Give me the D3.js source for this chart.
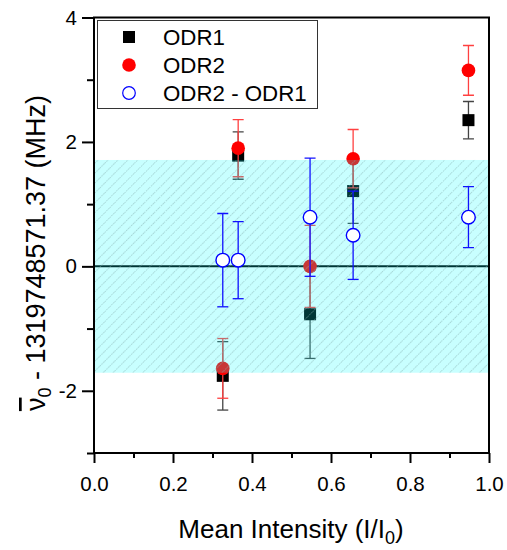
<!DOCTYPE html>
<html>
<head>
<meta charset="utf-8">
<script src="https://cdn.jsdelivr.net/npm/d3@7"></script>
<style>
  html, body { margin: 0; padding: 0; background: #fff; }
  svg { display: block; font-family: "Liberation Sans", Arial, sans-serif; }
</style>
</head>
<body>
<svg id="chart" width="507" height="550"></svg>
<script>
// ---- data ----
const intensity = [0.326, 0.365, 0.547, 0.656, 0.948];
const odr1      = [-1.76, 1.78, -0.77, 1.21, 2.35];
const odr1Err   = [0.55, 0.38, 0.71, 0.52, 0.30];
const odr2      = [-1.64, 1.90, 0.00, 1.73, 3.15];
const odr2Err   = [0.48, 0.46, 0.66, 0.47, 0.40];
const diff      = [0.10, 0.10, 0.79, 0.50, 0.79];
const diffErr   = [0.75, 0.62, 0.95, 0.71, 0.49];
const bandHalfWidth = 1.71;
const xMajorTicks = [0, 0.2, 0.4, 0.6, 0.8, 1.0];
const xMinorTicks = [0.1, 0.3, 0.5, 0.7, 0.9];
const yMajorTicks = [-2, 0, 2, 4];
const yMinorTicks = [-3, -1, 1, 3];
const legendLabels = ["ODR1", "ODR2", "ODR2 - ODR1"];

const svg = d3.select("#chart");
const L = 94, R = 489, T = 17.5, B = 453;
const x = d3.scaleLinear().domain([0, 1]).range([L, R]);
const y = d3.scaleLinear().domain([-3, 4]).range([B, T]);

const defs = svg.append("defs");
const pat = defs.append("pattern").attr("id", "hatch")
  .attr("patternUnits", "userSpaceOnUse").attr("width", 7).attr("height", 7)
  .attr("patternTransform", "rotate(45)");
pat.append("line").attr("x1", 0).attr("y1", 0).attr("x2", 0).attr("y2", 7)
  .attr("stroke", "#86b0b0").attr("stroke-width", 1).attr("stroke-dasharray", "1.5,1");
defs.append("clipPath").attr("id", "plotclip").append("rect")
  .attr("x", L).attr("y", T).attr("width", R - L).attr("height", B - T);

const plot = svg.append("g").attr("clip-path", "url(#plotclip)");

// zero line
plot.append("line").attr("x1", x(0)).attr("x2", x(1)).attr("y1", y(0)).attr("y2", y(0))
  .attr("stroke", "#000").attr("stroke-width", 2);

function errBars(g, vals, errs, color) {
  const capW = 5.5;
  intensity.forEach((xi, i) => {
    const cx = x(xi), lo = y(vals[i] - errs[i]), hi = y(vals[i] + errs[i]);
    g.append("line").attr("x1", cx).attr("x2", cx).attr("y1", lo).attr("y2", hi)
      .attr("stroke", color).attr("stroke-width", 1.3);
    [lo, hi].forEach(yy => g.append("line").attr("x1", cx - capW).attr("x2", cx + capW)
      .attr("y1", yy).attr("y2", yy).attr("stroke", color).attr("stroke-width", 1.3));
  });
}

// ODR1
const g1 = plot.append("g");
errBars(g1, odr1, odr1Err, "#444");
g1.selectAll("rect").data(intensity).join("rect")
  .attr("x", d => x(d) - 6).attr("y", (d, i) => y(odr1[i]) - 6)
  .attr("width", 12).attr("height", 12).attr("fill", "#000");

// ODR2
const g2 = plot.append("g");
errBars(g2, odr2, odr2Err, "#ff4040");
g2.selectAll("circle").data(intensity).join("circle")
  .attr("cx", d => x(d)).attr("cy", (d, i) => y(odr2[i])).attr("r", 6.8).attr("fill", "#ff0000");

// band
plot.append("rect").attr("x", L).attr("width", R - L)
  .attr("y", y(bandHalfWidth)).attr("height", y(-bandHalfWidth) - y(bandHalfWidth))
  .attr("fill", "#00ffff").attr("fill-opacity", 0.215);
plot.append("rect").attr("x", L).attr("width", R - L)
  .attr("y", y(bandHalfWidth)).attr("height", y(-bandHalfWidth) - y(bandHalfWidth))
  .attr("fill", "url(#hatch)");

// ODR2 - ODR1
const g3 = plot.append("g");
errBars(g3, diff, diffErr, "#1010ff");
g3.selectAll("circle").data(intensity).join("circle")
  .attr("cx", d => x(d)).attr("cy", (d, i) => y(diff[i])).attr("r", 6.8)
  .attr("fill", "#fff").attr("stroke", "#0000ff").attr("stroke-width", 1.4);

// frame
svg.append("rect").attr("x", L).attr("y", T).attr("width", R - L).attr("height", B - T)
  .attr("fill", "none").attr("stroke", "#000").attr("stroke-width", 2);

// axes
const fontSize = 20.5;
svg.append("g").attr("transform", `translate(0,${B})`)
  .call(d3.axisBottom(x).tickValues(xMajorTicks).tickSize(10).tickPadding(13)
    .tickFormat(d3.format(".1f")));
svg.append("g").attr("transform", `translate(0,${B})`)
  .call(d3.axisBottom(x).tickValues(xMinorTicks).tickSize(5).tickFormat(""));
svg.append("g").attr("transform", `translate(${L},0)`)
  .call(d3.axisLeft(y).tickValues(yMajorTicks).tickSize(12).tickPadding(5)
    .tickFormat(d => String(d)));
svg.append("g").attr("transform", `translate(${L},0)`)
  .call(d3.axisLeft(y).tickValues(yMinorTicks).tickSize(7).tickFormat(""));
svg.selectAll(".domain").remove();
svg.selectAll(".tick line").attr("stroke", "#000").attr("stroke-width", 2);
svg.selectAll(".tick text").attr("font-size", fontSize)
  .attr("font-family", "Liberation Sans, Arial, sans-serif").attr("fill", "#000");

// axis titles
const xt = svg.append("text").attr("x", 291).attr("y", 538)
  .attr("text-anchor", "middle").attr("font-size", 26).attr("fill", "#000");
xt.append("tspan").text("Mean Intensity (I/I");
xt.append("tspan").attr("font-size", 18).attr("dy", 6).text("0");
xt.append("tspan").attr("dy", -6).text(")");

const yt = svg.append("text").attr("transform", `translate(45,253) rotate(-90)`)
  .attr("text-anchor", "middle").attr("font-size", 27).attr("fill", "#000");
yt.append("tspan").style("text-decoration", "overline").text("\u03BD");
yt.append("tspan").attr("font-size", 18).attr("dy", 6).text("0");
yt.append("tspan").attr("dy", -6).text(" - 1319748571.37 (MHz)");

// legend
const lg = svg.append("g");
lg.append("rect").attr("x", 97.5).attr("y", 20.5).attr("width", 220).attr("height", 88)
  .attr("fill", "#fff").attr("stroke", "#333").attr("stroke-width", 1);
const ly = [37, 65, 93];
lg.append("rect").attr("x", 129 - 6).attr("y", ly[0] - 6).attr("width", 12).attr("height", 12).attr("fill", "#000");
lg.append("circle").attr("cx", 129).attr("cy", ly[1]).attr("r", 6.8).attr("fill", "#ff0000");
lg.append("circle").attr("cx", 129).attr("cy", ly[2]).attr("r", 6.3).attr("fill", "#fff")
  .attr("stroke", "#0000ff").attr("stroke-width", 1.2);
legendLabels.forEach((t, i) => lg.append("text").attr("x", 163).attr("y", ly[i] + 8)
  .attr("font-size", 22.3).attr("fill", "#000").text(t));
</script>
</body>
</html>
